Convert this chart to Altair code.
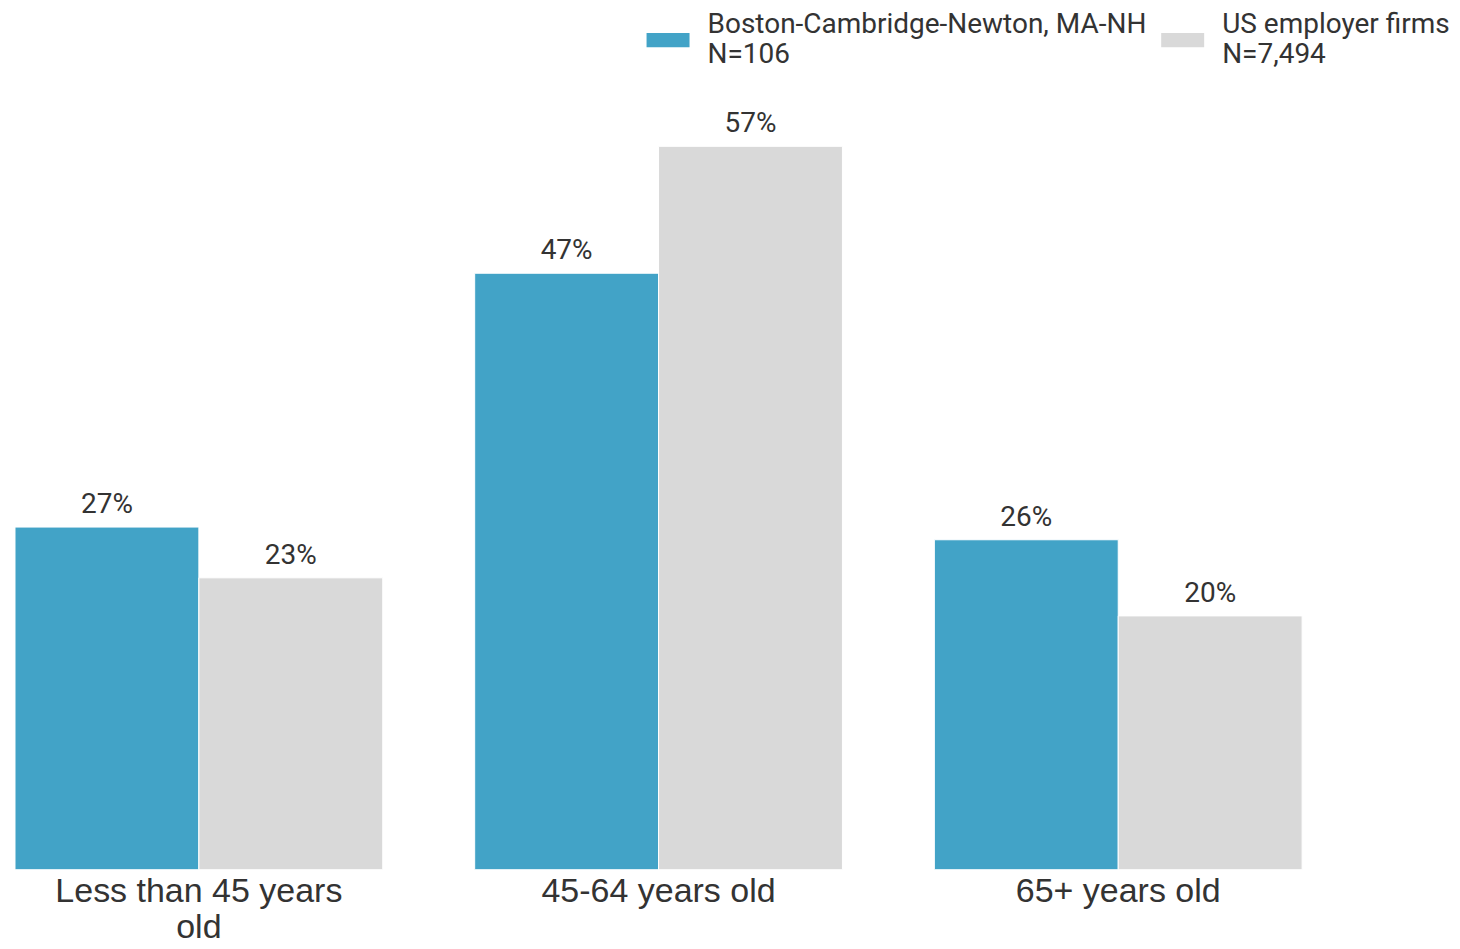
import altair as alt
import pandas as pd

categories = ["Less than 45 years old", "45-64 years old", "65+ years old"]
series = ["Boston-Cambridge-Newton, MA-NH", "US employer firms"]
series_n = ["N=106", "N=7,494"]
boston = [27, 47, 26]
us = [23, 57, 20]
colors = ["#42A3C7", "#D9D9D9"]

rows = []
for i, c in enumerate(categories):
    rows.append({"category": c, "series": series[0], "value": boston[i]})
    rows.append({"category": c, "series": series[1], "value": us[i]})
df = pd.DataFrame(rows)
df["label"] = df["value"].astype(str) + "%"

legend_expr = (
    f"datum.label == '{series[0]}' ? ['{series[0]}', '{series_n[0]}'] : "
    f"['{series[1]}', '{series_n[1]}']"
)
axis_expr = "datum.label == 'Less than 45 years old' ? ['Less than 45 years', 'old'] : datum.label"

base = alt.Chart(df).encode(
    x=alt.X(
        "category:N",
        sort=categories,
        scale=alt.Scale(paddingInner=0.2, paddingOuter=0),
        axis=alt.Axis(
            title=None, labelAngle=0, domain=False, ticks=False,
            labelFontSize=34, labelFont="Liberation Sans", labelColor="#333333",
            labelPadding=5, labelExpr=axis_expr, labelLimit=0, labelLineHeight=36,
            labelBaseline="top",
        ),
    ),
    xOffset=alt.XOffset("series:N", sort=series,
                        scale=alt.Scale(paddingInner=0, paddingOuter=0)),
    y=alt.Y("value:Q", scale=alt.Scale(domain=[0, 60]), axis=None),
)

bars = base.mark_bar(stroke="white", strokeWidth=1).encode(
    color=alt.Color(
        "series:N", sort=series,
        scale=alt.Scale(domain=series, range=colors),
        legend=alt.Legend(
            title=None, orient="none", legendX=632, legendY=-90,
            direction="horizontal", columns=2, columnPadding=14,
            symbolType="M-1,-0.33 h2 v0.66 h-2 z", symbolSize=1849,
            symbolStrokeWidth=0, labelFont="Roboto", labelFontSize=28,
            labelColor="#333333", labelExpr=legend_expr, labelLimit=0,
            labelBaseline="line-bottom", labelOffset=18,
        ),
    )
)

text = base.mark_text(
    baseline="bottom", dy=-8, fontSize=28, font="Roboto", color="#333333"
).encode(text="label:N")

chart = (
    alt.layer(bars, text)
    .properties(
        width=1288, height=762,
        autosize=alt.AutoSizeParams(type="none"),
        padding={"left": 7, "top": 100, "right": 150, "bottom": 71},
    )
    .configure(
        view=alt.ViewConfig(stroke="transparent", strokeWidth=0),
        style={"guide-label": {"lineHeight": 30}},
    )
)

chart.save("out.html", embed_options={"renderer": "svg", "actions": False})
